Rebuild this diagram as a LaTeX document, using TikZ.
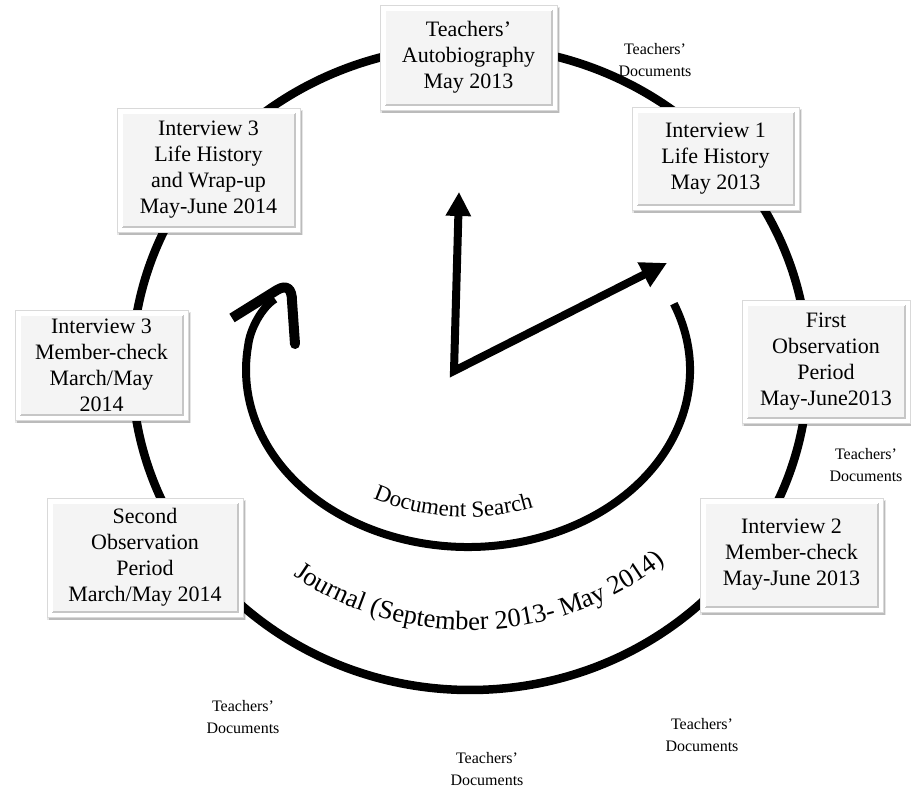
\documentclass[tikz,border=0pt]{standalone}
\usepackage{fontspec}
\setmainfont{Liberation Serif}
\usetikzlibrary{arrows.meta,calc,shadows,decorations.text}

\newcommand\boxfont{\fontsize{22}{26}\selectfont}
\newcommand\docsfont{\fontsize{16}{22}\selectfont}
\newcommand\journalfont{\fontsize{26.5}{30}\selectfont}
\newcommand\searchfont{\fontsize{23}{26}\selectfont}

\tikzset{
  stage/.style={rectangle, align=center, inner sep=0pt, font=\boxfont,
    fill=white, draw=gray!30, line width=0.6pt,
    general shadow={shadow xshift=1.5pt, shadow yshift=-2.5pt, shadow scale=1.015,
      fill=black, opacity=0.10},
    general shadow={shadow xshift=2pt, shadow yshift=-3pt, fill=black, opacity=0.18},
    path picture={
      \coordinate (pSW) at ($(path picture bounding box.south west)+(5pt,5pt)$);
      \coordinate (pNE) at ($(path picture bounding box.north east)+(-5pt,-5pt)$);
      \fill[gray!9] (pSW) rectangle (pNE);
      \draw[gray!45, line width=1.6pt] (pSW) -- (pSW -| pNE) -- (pNE);
      \draw[white, line width=1.6pt] (pSW) -- (pSW |- pNE) -- (pNE);
    }},
  docs/.style={align=center, inner sep=0pt, font=\docsfont},
  ring/.style={line width=8.5pt},
  loopline/.style={line width=8pt},
  hand/.style={line width=8pt, line join=miter},
}

\begin{document}
\begin{tikzpicture}[x=1pt, y=1pt]
\fill[white] (0,0) rectangle (911,791);
\useasboundingbox (0,0) rectangle (911,791);

% the yearly cycle behind the stages
\draw[ring] (470,423) ellipse [x radius=338, y radius=322];

% stages around the cycle
\node[stage, minimum width=177pt, minimum height=105pt] (auto) at (468.5,733.5)
  {Teachers’\\Autobiography\\May 2013};
\node[stage, minimum width=167pt, minimum height=103pt] (int1) at (715.5,632.5)
  {Interview 1\\Life History\\May 2013};
\node[stage, minimum width=168pt, minimum height=123pt] (obs1) at (826,429.5)
  {First\\Observation\\Period\\May-June2013};
\node[stage, minimum width=183pt, minimum height=114pt] (int2) at (791.5,236)
  {Interview 2\\Member-check\\May-June 2013};
\node[stage, minimum width=196pt, minimum height=119pt] (obs2) at (145,233.5)
  {Second\\Observation\\Period\\March/May 2014};
\node[stage, minimum width=173pt, minimum height=110pt] (mchk) at (101.5,426)
  {Interview 3\\Member-check\\March/May\\2014};
\node[stage, minimum width=183pt, minimum height=124pt] (int3) at (208.5,621)
  {Interview 3\\Life History\\and Wrap-up\\May-June 2014};

% document labels
\node[docs] (doc1) at (655,731) {Teachers’\\Documents};
\node[docs] (doc2) at (866,326) {Teachers’\\Documents};
\node[docs] (doc3) at (243,74) {Teachers’\\Documents};
\node[docs] (doc4) at (487,22) {Teachers’\\Documents};
\node[docs] (doc5) at (702,56) {Teachers’\\Documents};

% inner loop of the document search
\draw[loopline] (468,421) ++(22:222 and 177)
  arc[start angle=22, end angle=-188, x radius=222, y radius=177]
  .. controls (250,462) and (262,484) .. (275,492);
\draw[line width=10pt, line join=round] (232,473) -- (277,501)
  .. controls (287,507) and (292,502) .. (292,490);
\draw[line width=10pt, line cap=round] (292,490) -- (295,447);

% clock hands
\coordinate (pivot) at (454,420);
\coordinate (hourtip) at (459,599);
\coordinate (minutetip) at (667,528);
\draw[hand, {Triangle[length=24pt,width=24pt]}-{Triangle[length=26pt,width=26pt]}]
  (hourtip) -- (pivot) -- (minutetip);

% curved captions
\path[decorate, decoration={text along path, text align=center,
    text={|\journalfont|Journal (September 2013- May 2014)}}]
  (470,423) ++(200:290 and 262)
  arc[start angle=200, end angle=345, x radius=290, y radius=262];
\path[decorate, decoration={text along path, text align=center,
    text={|\searchfont|Document Search}}]
  (466,421) ++(200:190 and 147)
  arc[start angle=200, end angle=330, x radius=190, y radius=147];
\end{tikzpicture}
\end{document}
